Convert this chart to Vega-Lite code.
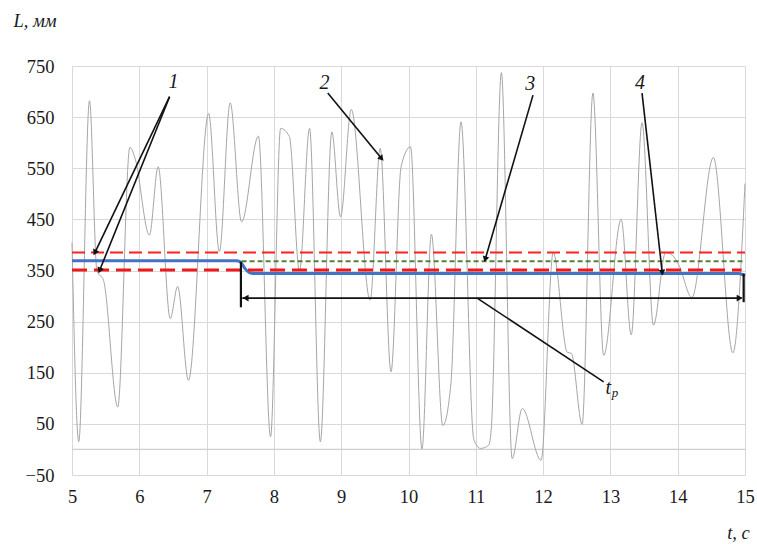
{
  "$schema": "https://vega.github.io/schema/vega-lite/v6.json",
  "width": 673,
  "height": 409,
  "autosize": {"type": "none"},
  "padding": {"left": 72, "top": 66, "right": 12, "bottom": 69},
  "background": "white",
  "config": {
    "view": {"stroke": null},
    "font": "'Liberation Serif', 'Times New Roman', Times, serif"
  },
  "datasets": {
    "signal": [
      {"t": 5.0, "L": 405}, {"t": 5.1, "L": 15}, {"t": 5.26, "L": 682}, {"t": 5.37, "L": 350},
      {"t": 5.47, "L": 330}, {"t": 5.68, "L": 83}, {"t": 5.86, "L": 591}, {"t": 5.94, "L": 568},
      {"t": 6.15, "L": 419}, {"t": 6.28, "L": 553}, {"t": 6.46, "L": 256}, {"t": 6.57, "L": 319},
      {"t": 6.73, "L": 135}, {"t": 7.03, "L": 657}, {"t": 7.19, "L": 387}, {"t": 7.35, "L": 678},
      {"t": 7.52, "L": 445}, {"t": 7.77, "L": 613}, {"t": 7.95, "L": 25}, {"t": 8.1, "L": 628},
      {"t": 8.23, "L": 612}, {"t": 8.38, "L": 349}, {"t": 8.53, "L": 628}, {"t": 8.69, "L": 15},
      {"t": 8.86, "L": 621}, {"t": 8.99, "L": 455}, {"t": 9.15, "L": 665}, {"t": 9.43, "L": 292},
      {"t": 9.58, "L": 589}, {"t": 9.74, "L": 152}, {"t": 9.89, "L": 553}, {"t": 10.03, "L": 592},
      {"t": 10.2, "L": 1}, {"t": 10.34, "L": 421}, {"t": 10.51, "L": 47}, {"t": 10.63, "L": 129},
      {"t": 10.78, "L": 641}, {"t": 10.97, "L": 20}, {"t": 11.07, "L": 2}, {"t": 11.19, "L": 8},
      {"t": 11.23, "L": 40}, {"t": 11.38, "L": 737}, {"t": 11.54, "L": -18}, {"t": 11.69, "L": 80},
      {"t": 11.97, "L": -21}, {"t": 12.15, "L": 385}, {"t": 12.36, "L": 190}, {"t": 12.42, "L": 188},
      {"t": 12.58, "L": 49}, {"t": 12.74, "L": 697}, {"t": 12.9, "L": 184}, {"t": 13.16, "L": 450},
      {"t": 13.31, "L": 224}, {"t": 13.47, "L": 639}, {"t": 13.64, "L": 243}, {"t": 13.82, "L": 385},
      {"t": 13.92, "L": 380}, {"t": 14.02, "L": 360}, {"t": 14.21, "L": 297}, {"t": 14.53, "L": 571},
      {"t": 14.82, "L": 189}, {"t": 15.0, "L": 520}
    ],
    "blue": [
      {"t": 5.0, "L": 369}, {"t": 7.44, "L": 369}, {"t": 7.5, "L": 367}, {"t": 7.57, "L": 354},
      {"t": 7.65, "L": 345}, {"t": 7.73, "L": 344}, {"t": 14.9, "L": 344}, {"t": 15.0, "L": 340}
    ],
    "hlines": [
      {"id": "zero", "t": 5, "t2": 15, "L": 0},
      {"id": "redup", "t": 5, "t2": 15, "L": 385},
      {"id": "green", "t": 7.52, "t2": 15, "L": 368},
      {"id": "redlow", "t": 5, "t2": 14.95, "L": 351}
    ],
    "ann": [
      {"id": "v", "t": 7.51, "L": 367, "t2": 7.51, "L2": 278},
      {"id": "v", "t": 14.98, "L": 344, "t2": 14.98, "L2": 288},
      {"id": "a", "t": 7.53, "L": 296, "t2": 14.95, "L2": 296},
      {"id": "a", "t": 6.45, "L": 690, "t2": 5.34, "L2": 385},
      {"id": "a", "t": 6.45, "L": 690, "t2": 5.41, "L2": 350},
      {"id": "a", "t": 8.8, "L": 697, "t2": 9.6, "L2": 569},
      {"id": "a", "t": 11.85, "L": 693, "t2": 11.14, "L2": 372},
      {"id": "a", "t": 13.47, "L": 697, "t2": 13.77, "L2": 346},
      {"id": "a", "t": 11.02, "L": 296, "t2": 12.9, "L2": 132}
    ],
    "heads": [
      {"id": "h1a", "t": 5.34, "L": 385},
      {"id": "h1b", "t": 5.41, "L": 350},
      {"id": "h2", "t": 9.6, "L": 569},
      {"id": "h3", "t": 11.14, "L": 372},
      {"id": "h4", "t": 13.77, "L": 346},
      {"id": "hl", "t": 7.58, "L": 296},
      {"id": "hr", "t": 14.92, "L": 296}
    ],
    "labels": [
      {"id": "n", "t": 6.51, "L": 718, "text": "1"},
      {"id": "n", "t": 8.75, "L": 716, "text": "2"},
      {"id": "n", "t": 11.81, "L": 714, "text": "3"},
      {"id": "n", "t": 13.44, "L": 716, "text": "4"},
      {"id": "t", "t": 12.97, "L": 120, "text": "t"},
      {"id": "p", "t": 13.07, "L": 110, "text": "p"}
    ]
  },
  "encoding": {
    "x": {
      "field": "t", "type": "quantitative",
      "scale": {"domain": [5, 15], "nice": false, "zero": false},
      "axis": {
        "values": [5, 6, 7, 8, 9, 10, 11, 12, 13, 14, 15],
        "grid": true, "gridColor": "#d9d9d9", "gridWidth": 1,
        "domain": false, "ticks": false,
        "labelFont": "'Liberation Serif', 'Times New Roman', Times, serif", "labelFontSize": 18.5, "labelColor": "#1a1a1a",
        "labelPadding": 12, "labelOverlap": false, "labelFlush": false,
        "title": "t, c", "titleFont": "'Liberation Serif', 'Times New Roman', Times, serif", "titleFontStyle": "italic",
        "titleFontWeight": "normal", "titleFontSize": 18.5, "titleColor": "#1a1a1a",
        "titleX": 666, "titleY": 57, "titleAlign": "center", "titleBaseline": "middle", "titleAngle": 0
      }
    },
    "y": {
      "field": "L", "type": "quantitative",
      "scale": {"domain": [-50, 750], "nice": false, "zero": false},
      "axis": {
        "values": [-50, 50, 150, 250, 350, 450, 550, 650, 750],
        "grid": true, "gridColor": "#d9d9d9", "gridWidth": 1,
        "domain": false, "ticks": false,
        "labelFont": "'Liberation Serif', 'Times New Roman', Times, serif", "labelFontSize": 18.5, "labelColor": "#1a1a1a",
        "labelPadding": 18, "labelOverlap": false, "labelFlush": false,
        "labelExpr": "replace(datum.label, '-', '\u2212')",
        "title": "L, мм", "titleFont": "'Liberation Serif', 'Times New Roman', Times, serif", "titleFontStyle": "italic",
        "titleFontWeight": "normal", "titleFontSize": 18.5, "titleColor": "#1a1a1a",
        "titleX": -59, "titleY": -46, "titleAlign": "left", "titleBaseline": "middle", "titleAngle": 0
      }
    }
  },
  "layer": [
    {
      "data": {"name": "hlines"},
      "transform": [{"filter": "datum.id == 'zero'"}],
      "mark": {"type": "rule", "color": "#cfcfcf", "strokeWidth": 1.2},
      "encoding": {"x2": {"field": "t2"}}
    },
    {
      "data": {"name": "signal"},
      "mark": {"type": "line", "interpolate": "monotone", "color": "#a6a6a6", "strokeWidth": 1},
      "encoding": {}
    },
    {
      "data": {"name": "hlines"},
      "transform": [{"filter": "datum.id == 'redup'"}],
      "mark": {"type": "rule", "color": "#ff2020", "strokeWidth": 2, "strokeDash": [13, 6]},
      "encoding": {"x2": {"field": "t2"}}
    },
    {
      "data": {"name": "hlines"},
      "transform": [{"filter": "datum.id == 'green'"}],
      "mark": {"type": "rule", "color": "#548235", "strokeWidth": 2, "strokeDash": [5, 3]},
      "encoding": {"x2": {"field": "t2"}}
    },
    {
      "data": {"name": "blue"},
      "mark": {"type": "line", "interpolate": "monotone", "color": "#4472c4", "strokeWidth": 3},
      "encoding": {}
    },
    {
      "data": {"name": "hlines"},
      "transform": [{"filter": "datum.id == 'redlow'"}],
      "mark": {"type": "rule", "color": "#f01818", "strokeWidth": 3, "strokeDash": [15, 7]},
      "encoding": {"x2": {"field": "t2"}}
    },
    {
      "data": {"name": "ann"},
      "transform": [{"filter": "datum.id == 'v'"}],
      "mark": {"type": "rule", "color": "#111111", "strokeWidth": 2.2},
      "encoding": {"x2": {"field": "t2"}, "y2": {"field": "L2"}}
    },
    {
      "data": {"name": "ann"},
      "transform": [{"filter": "datum.id == 'a'"}],
      "mark": {"type": "rule", "color": "#111111", "strokeWidth": 1.6},
      "encoding": {"x2": {"field": "t2"}, "y2": {"field": "L2"}}
    },
    {
      "data": {"name": "heads"},
      "transform": [{"filter": "datum.id == 'h1a'"}],
      "mark": {"type": "point", "shape": "triangle-right", "filled": true, "color": "#111111", "size": 45, "angle": 116, "opacity": 1},
      "encoding": {}
    },
    {
      "data": {"name": "heads"},
      "transform": [{"filter": "datum.id == 'h1b'"}],
      "mark": {"type": "point", "shape": "triangle-right", "filled": true, "color": "#111111", "size": 45, "angle": 112, "opacity": 1},
      "encoding": {}
    },
    {
      "data": {"name": "heads"},
      "transform": [{"filter": "datum.id == 'h2'"}],
      "mark": {"type": "point", "shape": "triangle-right", "filled": true, "color": "#111111", "size": 45, "angle": 50, "opacity": 1},
      "encoding": {}
    },
    {
      "data": {"name": "heads"},
      "transform": [{"filter": "datum.id == 'h3'"}],
      "mark": {"type": "point", "shape": "triangle-right", "filled": true, "color": "#111111", "size": 45, "angle": 106, "opacity": 1},
      "encoding": {}
    },
    {
      "data": {"name": "heads"},
      "transform": [{"filter": "datum.id == 'h4'"}],
      "mark": {"type": "point", "shape": "triangle-right", "filled": true, "color": "#111111", "size": 45, "angle": 84, "opacity": 1},
      "encoding": {}
    },
    {
      "data": {"name": "heads"},
      "transform": [{"filter": "datum.id == 'hl'"}],
      "mark": {"type": "point", "shape": "triangle-right", "filled": true, "color": "#111111", "size": 45, "angle": 180, "opacity": 1},
      "encoding": {}
    },
    {
      "data": {"name": "heads"},
      "transform": [{"filter": "datum.id == 'hr'"}],
      "mark": {"type": "point", "shape": "triangle-right", "filled": true, "color": "#111111", "size": 45, "angle": 0, "opacity": 1},
      "encoding": {}
    },
    {
      "data": {"name": "labels"},
      "transform": [{"filter": "datum.id == 'n' || datum.id == 't'"}],
      "mark": {"type": "text", "font": "'Liberation Serif', 'Times New Roman', Times, serif", "fontStyle": "italic", "fontSize": 20, "color": "#1a1a1a", "align": "center", "baseline": "middle"},
      "encoding": {"text": {"field": "text"}}
    },
    {
      "data": {"name": "labels"},
      "transform": [{"filter": "datum.id == 'p'"}],
      "mark": {"type": "text", "font": "'Liberation Serif', 'Times New Roman', Times, serif", "fontStyle": "italic", "fontSize": 13, "color": "#1a1a1a", "align": "center", "baseline": "middle"},
      "encoding": {"text": {"field": "text"}}
    }
  ]
}
